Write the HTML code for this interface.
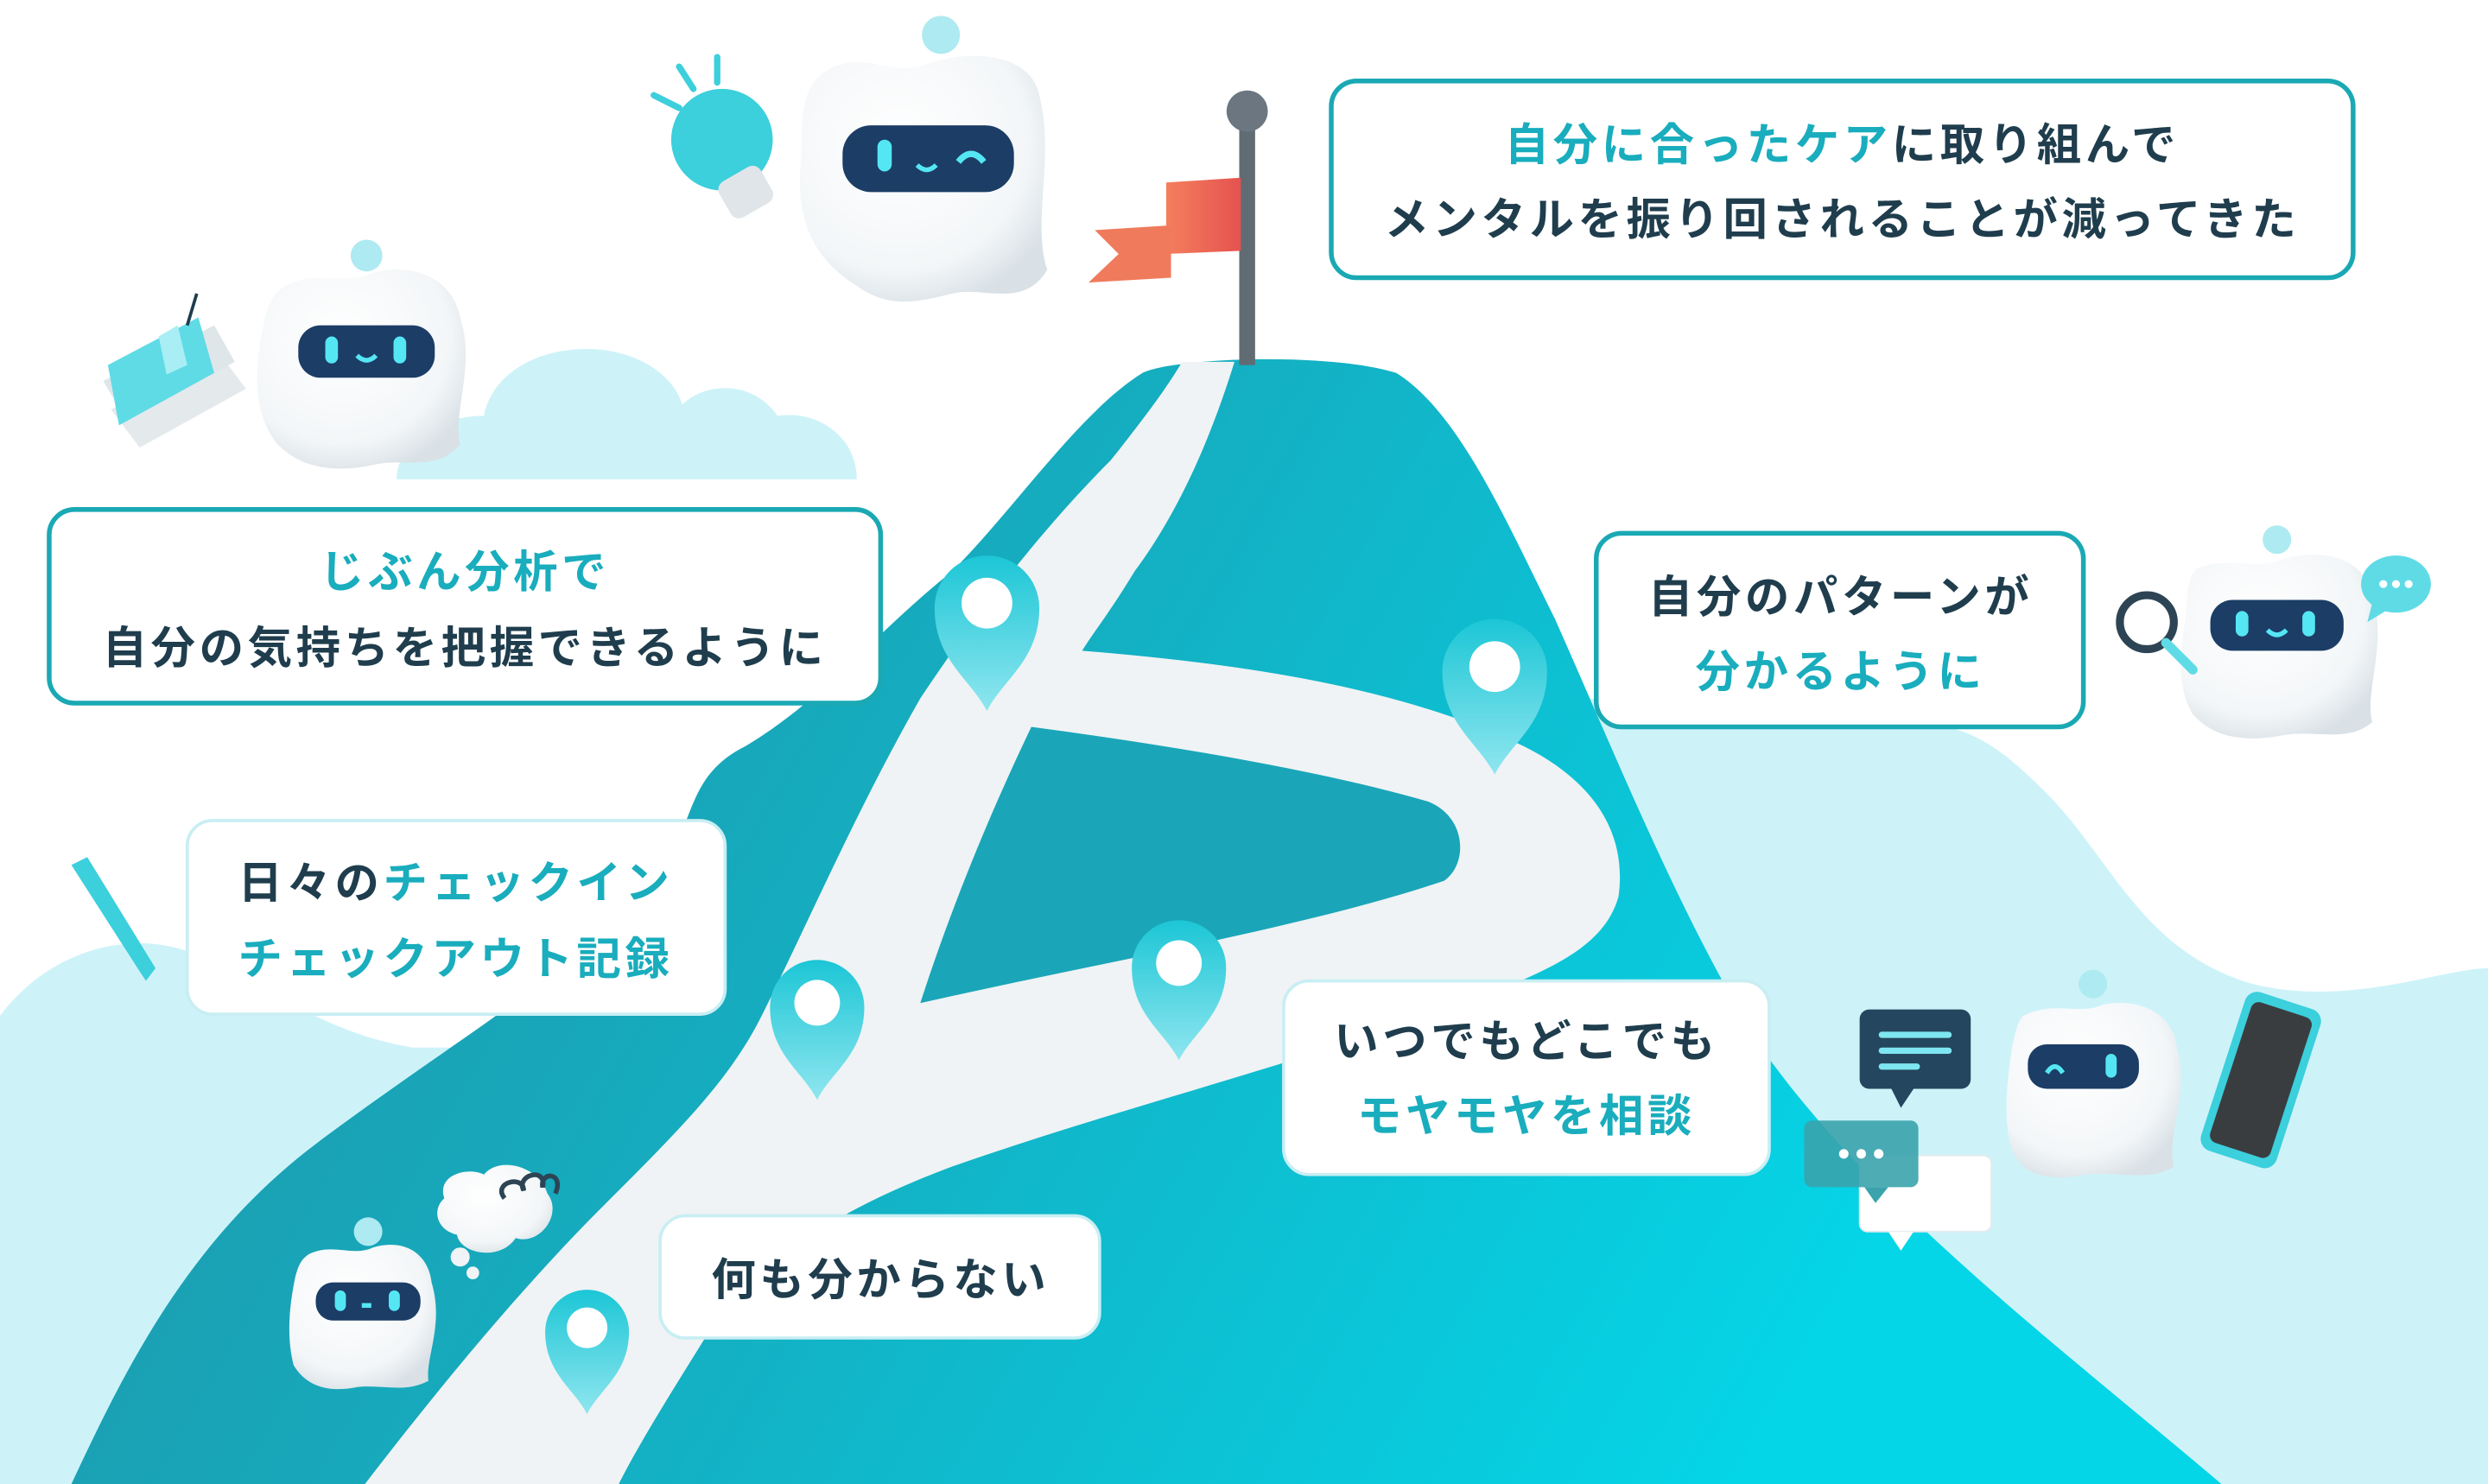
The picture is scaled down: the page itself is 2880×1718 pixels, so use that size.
<!DOCTYPE html>
<html><head><meta charset="utf-8"><style>
html,body{margin:0;padding:0;background:#fff;}
svg{display:block;}
text{font-family:"Liberation Sans","Noto Sans CJK JP",sans-serif;font-weight:700;font-size:28px;letter-spacing:2.5px;}
.d{fill:#1f3d4d;} .c{fill:#19adbd;}
</style></head><body>
<svg width="2880" height="1718" viewBox="0 0 1568 935" preserveAspectRatio="none" xmlns="http://www.w3.org/2000/svg">
<defs>
<linearGradient id="mt" x1="0" y1="0" x2="1" y2="0.3">
<stop offset="0" stop-color="#2290a4"/><stop offset="0.5" stop-color="#14afc2"/><stop offset="1" stop-color="#04d6e8"/></linearGradient>
<linearGradient id="pin" x1="0" y1="0" x2="0" y2="1">
<stop offset="0" stop-color="#1cc6d6"/><stop offset="1" stop-color="#8fe6ef"/></linearGradient>
<linearGradient id="flag" x1="0" y1="0" x2="1" y2="0">
<stop offset="0" stop-color="#f47f5e"/><stop offset="1" stop-color="#e5524f"/></linearGradient>
<radialGradient id="bot" cx="0.4" cy="0.35" r="0.7">
<stop offset="0" stop-color="#ffffff"/><stop offset="0.75" stop-color="#f3f6f8"/><stop offset="1" stop-color="#d9e1e6"/></radialGradient>
<g id="pinshape"><path d="M0,70 C-10,50 -33,38 -33,5 A33,33 0 0 1 33,5 C33,38 10,50 0,70Z" fill="url(#pin)"/><circle cx="0" cy="2" r="16" fill="#fff"/></g>
</defs>
<rect width="1568" height="935" fill="#fff"/>
<!-- background hills -->
<path d="M0,640 C30,600 80,585 120,600 C170,620 200,650 260,660 L420,660 L420,935 L0,935Z" fill="#cdf3f9"/>
<path d="M1000,440 L1200,455 C1240,455 1260,470 1290,500 C1330,540 1350,600 1420,620 C1480,635 1540,610 1568,610 L1568,935 L1000,935Z" fill="#cdf3f9"/>
<!-- cloud -->
<path d="M250,302 C250,280 275,262 305,262 C310,235 340,218 375,220 C405,222 425,238 430,255 C445,240 475,240 490,262 C515,258 540,275 540,302Z" fill="#cdf3f9"/>
<!-- mountain -->
<path d="M45,935 C80,860 120,780 200,720 C280,660 350,620 410,560 C440,520 430,490 470,470 C520,440 550,400 600,360 C640,320 680,260 720,235 C740,225 840,222 880,235 C920,260 950,330 980,390 C1020,480 1060,580 1110,660 C1180,760 1300,850 1400,935Z" fill="url(#mt)"/>
<!-- road -->
<path d="M745,228 L778,228 C765,270 745,320 715,360 C700,385 688,400 682,410 C780,418 880,432 960,470 C1010,495 1025,530 1020,565 C1010,600 970,615 900,640 C800,675 700,700 600,735 C520,765 470,800 440,850 C415,890 400,915 390,935 L230,935 C280,870 330,810 380,760 C430,710 460,680 480,640 C510,580 540,510 580,440 C620,380 660,330 700,290 C720,265 735,245 745,228Z" fill="#eff3f5"/>
<path d="M650,458 C740,470 830,485 900,505 C925,515 925,545 910,555 C820,585 700,605 580,632 C600,570 625,510 650,458Z" fill="#1aa6b8"/>
<!-- pins -->
<use href="#pinshape" transform="translate(622,378)"/>
<use href="#pinshape" transform="translate(942,418)"/>
<use href="#pinshape" transform="translate(515,630) scale(0.9)"/>
<use href="#pinshape" transform="translate(743,605) scale(0.9)"/>
<use href="#pinshape" transform="translate(370,835) scale(0.8)"/>
<!-- flag -->
<rect x="781" y="72" width="10" height="158" fill="#616b74"/>
<circle cx="786" cy="70" r="13" fill="#6b7680"/>
<path d="M735,115 L782,112 L782,158 L735,160Z" fill="url(#flag)"/>
<path d="M738,142 L690,145 L705,160 L686,178 L738,175Z" fill="#f07a5c"/>
<!-- boxes -->
<g fill="#fff" stroke="#1aa9b4" stroke-width="3">
<rect x="839" y="51" width="644" height="124" rx="16"/>
<rect x="31" y="321" width="524" height="122" rx="16"/>
<rect x="1006" y="336" width="307" height="122" rx="16"/>
</g>
<g fill="#fff" stroke="#c8eef3" stroke-width="2">
<rect x="118" y="517" width="339" height="122" rx="16"/>
<rect x="809" y="618" width="306" height="122" rx="16"/>
<rect x="416" y="766" width="277" height="77" rx="16"/>
</g>
<text x="1161" y="101" text-anchor="middle"><tspan class="c">自分に合ったケア</tspan><tspan class="d">に取り組んで</tspan></text>
<text x="1161" y="148" text-anchor="middle" class="d">メンタルを振り回されることが減ってきた</text>
<text x="293" y="370" text-anchor="middle" class="c">じぶん分析で</text>
<text x="293" y="418" text-anchor="middle" class="d">自分の気持ちを把握できるように</text>
<text x="1160" y="386" text-anchor="middle" class="d">自分のパターンが</text>
<text x="1160" y="433" text-anchor="middle" class="c">分かるように</text>
<text x="150" y="566"><tspan class="d">日々の</tspan><tspan class="c">チェックイン</tspan></text>
<text x="150" y="614" class="c">チェックアウト記録</text>
<text x="962" y="666" text-anchor="middle" class="d">いつでもどこでも</text>
<text x="962" y="713" text-anchor="middle" class="c">モヤモヤを相談</text>
<text x="555" y="816" text-anchor="middle" class="d">何も分からない</text>
<!-- robots -->
<g>
<circle cx="593" cy="22" r="12" fill="#aeeaf1"/>
<path d="M520,45 C545,30 560,50 585,40 C615,30 650,35 655,60 C665,100 650,140 660,170 C645,195 620,180 600,185 C580,190 560,195 540,180 C515,165 500,140 505,100 C505,75 505,55 520,45Z" fill="url(#bot)"/>
<rect x="531" y="79" width="108" height="42" rx="18" fill="#1b3d66"/>
<rect x="553" y="88" width="9" height="20" rx="4.5" fill="#55e6f3"/>
<path d="M578,104 Q584,110 590,104" stroke="#55e6f3" stroke-width="3" fill="none"/>
<path d="M604,102 Q612,92 620,102" stroke="#55e6f3" stroke-width="4" fill="none"/>
</g>
<g>
<circle cx="231" cy="161" r="10" fill="#aeeaf1"/>
<path d="M180,180 C200,170 215,180 235,172 C260,165 285,175 290,200 C300,230 285,260 290,280 C275,298 255,288 235,293 C210,298 190,295 175,280 C160,262 160,235 165,210 C168,192 172,185 180,180Z" fill="url(#bot)"/>
<rect x="188" y="205" width="86" height="33" rx="14" fill="#1b3d66"/>
<rect x="205" y="212" width="8" height="17" rx="4" fill="#55e6f3"/>
<rect x="248" y="212" width="8" height="17" rx="4" fill="#55e6f3"/>
<path d="M225,224 Q231,230 237,224" stroke="#55e6f3" stroke-width="3" fill="none"/>
</g>
<g>
<circle cx="1435" cy="340" r="9" fill="#aeeaf1"/>
<path d="M1385,358 C1405,350 1420,360 1440,352 C1465,345 1490,352 1495,375 C1505,405 1490,435 1495,455 C1480,468 1460,460 1440,463 C1415,468 1395,465 1382,450 C1370,430 1375,405 1378,385 C1378,370 1380,362 1385,358Z" fill="url(#bot)"/>
<rect x="1393" y="378" width="84" height="32" rx="14" fill="#1b3d66"/>
<rect x="1409" y="385" width="8" height="16" rx="4" fill="#55e6f3"/>
<rect x="1451" y="385" width="8" height="16" rx="4" fill="#55e6f3"/>
<path d="M1429,397 Q1435,403 1441,397" stroke="#55e6f3" stroke-width="3" fill="none"/>
</g>
<g>
<circle cx="1319" cy="620" r="9" fill="#aeeaf1"/>
<path d="M1275,640 C1295,630 1310,640 1325,633 C1350,628 1370,640 1372,660 C1380,690 1365,715 1370,735 C1355,745 1335,738 1315,740 C1290,745 1275,740 1268,725 C1262,705 1265,680 1268,660 C1270,650 1272,643 1275,640Z" fill="url(#bot)"/>
<rect x="1278" y="658" width="70" height="28" rx="12" fill="#1b3d66"/>
<path d="M1290,676 Q1295,668 1300,676" stroke="#55e6f3" stroke-width="3" fill="none"/>
<rect x="1327" y="664" width="7" height="15" rx="3.5" fill="#55e6f3"/>
</g>
<g>
<circle cx="232" cy="776" r="9" fill="#aeeaf1"/>
<path d="M195,790 C210,783 222,792 235,786 C255,780 270,790 272,808 C280,835 268,855 270,870 C255,878 240,872 225,874 C205,878 192,872 185,860 C180,840 183,820 186,805 C188,797 190,793 195,790Z" fill="url(#bot)"/>
<rect x="199" y="808" width="66" height="24" rx="11" fill="#1b3d66"/>
<rect x="211" y="813" width="7" height="13" rx="3.5" fill="#55e6f3"/>
<rect x="245" y="813" width="7" height="13" rx="3.5" fill="#55e6f3"/>
<rect x="228" y="821" width="6" height="3" fill="#55e6f3"/>
</g>
<!-- lightbulb -->
<circle cx="455" cy="88" r="32" fill="#3ccfdc"/>
<rect x="455" y="108" width="30" height="26" rx="6" fill="#dfe5e8" transform="rotate(-30 470 121)"/>
<path d="M412,60 L428,68 M428,42 L437,56 M452,36 L452,52" stroke="#3ccfdc" stroke-width="4" stroke-linecap="round"/>
<!-- books -->
<path d="M70,258 L140,225 L155,245 L88,282Z" fill="#e4e9ec"/>
<path d="M65,240 L135,205 L148,228 L80,265Z" fill="#dfe6e9"/>
<path d="M68,230 L125,200 L135,235 L75,268Z" fill="#5fdbe6"/>
<path d="M100,212 L112,205 L118,230 L105,236Z" fill="#a8eef4"/>
<path d="M118,205 L124,185" stroke="#1f3d4d" stroke-width="2"/>
<!-- pencil -->
<path d="M45,545 L55,540 L98,610 L92,618 L88,612Z" fill="#3ccfdc"/>
<!-- magnifier -->
<circle cx="1353" cy="392" r="17" fill="none" stroke="#2d4454" stroke-width="5"/>
<path d="M1365,405 L1382,422" stroke="#5fdbe6" stroke-width="6" stroke-linecap="round"/>
<!-- speech small -->
<ellipse cx="1510" cy="368" rx="22" ry="18" fill="#5fdbe6"/>
<path d="M1495,380 L1492,392 L1505,384Z" fill="#5fdbe6"/>
<circle cx="1502" cy="368" r="2.5" fill="#fff"/><circle cx="1510" cy="368" r="2.5" fill="#fff"/><circle cx="1518" cy="368" r="2.5" fill="#fff"/>
<!-- chats -->
<rect x="1172" y="636" width="70" height="50" rx="6" fill="#24465e"/>
<path d="M1192,686 L1198,698 L1206,686Z" fill="#24465e"/>
<path d="M1186,652 L1228,652 M1186,662 L1228,662 M1186,672 L1208,672" stroke="#7ee6f0" stroke-width="4" stroke-linecap="round"/>
<rect x="1172" y="728" width="83" height="48" rx="5" fill="#fff" stroke="#e3eaee"/>
<path d="M1190,776 L1198,788 L1206,776Z" fill="#fff"/>
<rect x="1137" y="706" width="72" height="42" rx="5" fill="#3aa3ac" opacity="0.9"/>
<path d="M1175,748 L1182,758 L1190,748Z" fill="#3aa3ac"/>
<circle cx="1162" cy="727" r="3" fill="#fff"/><circle cx="1173" cy="727" r="3" fill="#fff"/><circle cx="1184" cy="727" r="3" fill="#fff"/>
<!-- phone -->
<rect x="1400" y="628" width="50" height="105" rx="8" fill="#3ccfdc" transform="rotate(18 1425 680)"/>
<rect x="1405" y="634" width="40" height="93" rx="5" fill="#3a3d40" transform="rotate(18 1425 680)"/>
<!-- thought cloud -->
<path d="M280,755 C275,740 295,735 305,740 C315,728 340,735 345,752 C355,765 340,785 325,780 C315,795 290,790 288,778 C275,775 272,762 280,755Z" fill="url(#bot)"/>
<circle cx="290" cy="792" r="6" fill="#f0f4f6"/><circle cx="298" cy="802" r="4" fill="#f0f4f6"/>
<path d="M318,755 C310,745 330,740 330,750 C325,740 345,735 342,748 C340,738 356,738 350,752" stroke="#2d4454" stroke-width="3" fill="none"/>
</svg>
</body></html>
